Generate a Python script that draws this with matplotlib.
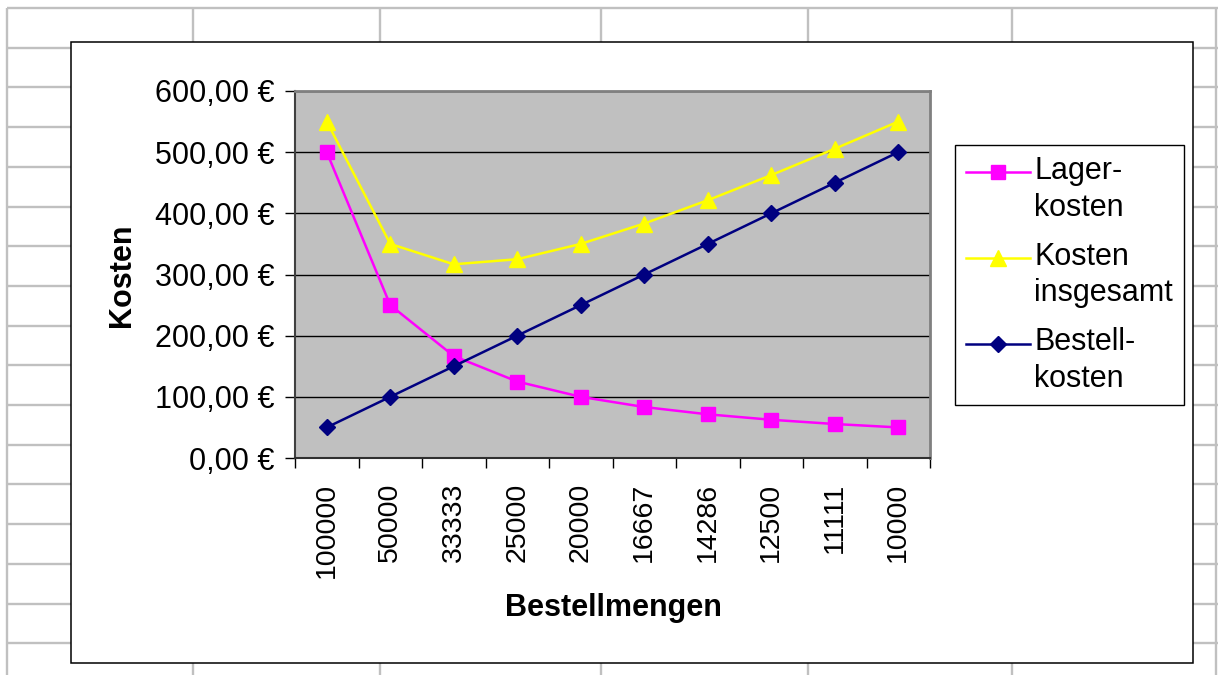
import numpy as np
import matplotlib as mpl
mpl.use('Agg')
import matplotlib.pyplot as plt
from matplotlib.patches import Rectangle
from matplotlib.legend_handler import HandlerLine2D

plt.rcParams['font.family'] = ['Liberation Sans', 'DejaVu Sans']

# data
mengen = ['100000', '50000', '33333', '25000', '20000', '16667', '14286', '12500', '11111', '10000']
lagerkosten = [500, 250, 166.67, 125, 100, 83.33, 71.43, 62.5, 55.56, 50]
kosten_gesamt = [550, 350, 316.67, 325, 350, 383.33, 421.43, 462.5, 505.56, 550]
bestellkosten = [50, 100, 150, 200, 250, 300, 350, 400, 450, 500]


class TopLineHandler(HandlerLine2D):
    # excel puts the legend symbol next to the first line of the label
    def create_artists(self, legend, orig_handle, xdescent, ydescent, width, height, fontsize, trans):
        return super().create_artists(legend, orig_handle, xdescent, ydescent - 1.15*fontsize,
                                      width, height, fontsize, trans)


W, H = 1218, 675
fig = plt.figure(figsize=(W/100, H/100), dpi=100)

# spreadsheet cells behind the chart
bg = fig.add_axes([0, 0, 1, 1])
bg.set_xlim(0, W)
bg.set_ylim(H, 0)
bg.axis('off')
grid_c = '#c0c0c0'
rows = 8 + 39.7*np.arange(0, 18)
bg.hlines(rows, 7, W, color=grid_c, lw=1.7)
bg.vlines([7, 193, 380, 601, 808, 1012, 1216], 8, H, color=grid_c, lw=1.7)
bg.add_patch(Rectangle((71, 42), 1193-71, 663-42, facecolor='white', edgecolor='black', lw=1.1, zorder=3))

# plot area
x0, x1, y0, y1 = 295, 930, 91, 458
ax = fig.add_axes([x0/W, 1-y1/H, (x1-x0)/W, (y1-y0)/H])
ax.set_facecolor('#c0c0c0')
ax.set_xlim(-0.5, 9.5)
ax.set_ylim(0, 600)
ax.yaxis.set_major_locator(mpl.ticker.MultipleLocator(100))
ax.yaxis.set_major_formatter(mpl.ticker.FuncFormatter(lambda v, p: ('%.2f €' % v).replace('.', ',')))
ax.grid(True, axis='y', color='black', lw=1.0)
ax.set_axisbelow(True)

ax.set_xticks(np.arange(-0.5, 10, 1))
ax.set_xticklabels([])
ax.set_xticks(np.arange(len(mengen)), minor=True)
ax.set_xticklabels(mengen, minor=True, rotation=90, fontsize=20.5, va='top')
ax.tick_params(axis='x', which='major', direction='out', length=7, width=1)
ax.tick_params(axis='x', which='minor', length=0, pad=18)
ax.tick_params(axis='y', direction='out', length=7, width=1, labelsize=22, pad=8)

for s in ['top', 'right']:
    ax.spines[s].set_color('#808080')
    ax.spines[s].set_linewidth(2)
ax.spines['left'].set_color('#404040')
ax.spines['left'].set_linewidth(1.5)
ax.spines['bottom'].set_color('#303030')
ax.spines['bottom'].set_linewidth(1.5)

xs = np.arange(len(mengen))
ax.plot(xs, lagerkosten, color='#ff00ff', lw=1.8, marker='s', ms=10, label='Lager-\nkosten', clip_on=False)
ax.plot(xs, kosten_gesamt, color='#ffff00', lw=1.8, marker='^', ms=11.5, label='Kosten\ninsgesamt', clip_on=False)
ax.plot(xs, bestellkosten, color='#000080', lw=1.8, marker='D', ms=8.5, label='Bestell-\nkosten', clip_on=False)

fig.text(122/W, 1-275/H, 'Kosten', rotation=90, fontsize=22, fontweight='bold', ha='center', va='center')
fig.text(613/W, 1-608/H, 'Bestellmengen', fontsize=22, fontweight='bold', ha='center', va='center')

leg = ax.legend(loc='upper left', bbox_to_anchor=(955/W, 1-145/H), bbox_transform=fig.transFigure,
                fontsize=22, frameon=True, fancybox=False, framealpha=1, edgecolor='black',
                handlelength=2.1, handletextpad=0.15, borderpad=0.35, borderaxespad=0,
                labelspacing=0.62, numpoints=1,
                handler_map={mpl.lines.Line2D: TopLineHandler()})
leg.get_frame().set_linewidth(1.0)
for t in leg.get_texts():
    t.set_linespacing(1.3)

fig.savefig('out.png', dpi=100)
